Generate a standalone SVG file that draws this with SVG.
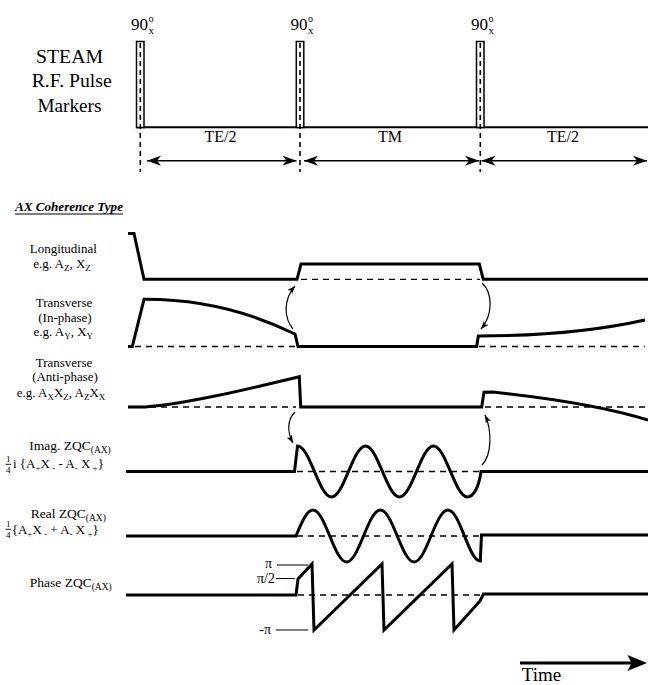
<svg xmlns="http://www.w3.org/2000/svg" width="648" height="685" viewBox="0 0 648 685">
<style>
.t{font-family:"Liberation Serif","Times New Roman",serif;font-size:13px;fill:#000}
.sb{font-size:9px}
.w{fill:none;stroke:#000;stroke-width:3;stroke-linejoin:miter;stroke-miterlimit:10}
.d{fill:none;stroke:#000;stroke-width:1.3;stroke-dasharray:6 5}
.vd{fill:none;stroke:#000;stroke-width:1.6;stroke-dasharray:5 4}
.ln{fill:none;stroke:#000;stroke-width:1}
.ar{fill:none;stroke:#000;stroke-width:1.5}
.ca{fill:none;stroke:#000;stroke-width:1.2}
.pulse{fill:#fff;stroke:#000;stroke-width:1.5}
</style>
<defs>
<marker id="ah" markerUnits="userSpaceOnUse" viewBox="0 0 14 10" refX="14" refY="5" markerWidth="14" markerHeight="10" orient="auto-start-reverse">
<path d="M0,0 L14,5 L0,10 L4,5 Z" fill="#000"/>
</marker>
<marker id="sa" markerUnits="userSpaceOnUse" viewBox="0 0 8 6" refX="8" refY="3" markerWidth="8" markerHeight="6" orient="auto">
<path d="M0,0 L8,3 L0,6 L2,3 Z" fill="#000"/>
</marker>
</defs>
<rect width="648" height="685" fill="#fff"/>

<g id="pulse-markers">
<text class="t" x="69.5" y="63" text-anchor="middle" style="font-size:18px" textLength="67" lengthAdjust="spacingAndGlyphs">STEAM</text>
<text class="t" x="71.7" y="87" text-anchor="middle" style="font-size:18px" textLength="80" lengthAdjust="spacingAndGlyphs">R.F. Pulse</text>
<text class="t" x="69.5" y="112" text-anchor="middle" style="font-size:18px" textLength="64" lengthAdjust="spacingAndGlyphs">Markers</text>
<line x1="136" y1="127.3" x2="648" y2="127.3" stroke="#000" stroke-width="2"/>
</g>

<g id="pulse1">
<rect class="pulse" x="136.5" y="41.5" width="7.5" height="86"/>
<line class="vd" x1="140.3" y1="43" x2="140.3" y2="172"/>
<text class="t" x="131" y="30" style="font-size:17px">90</text>
<text class="t" x="148.5" y="21.5" style="font-size:10px">o</text>
<text class="t" x="148.5" y="34" style="font-size:11px">x</text>
</g>
<g id="pulse2">
<rect class="pulse" x="296.3" y="41.5" width="7.5" height="86"/>
<line class="vd" x1="300" y1="43" x2="300" y2="172"/>
<text class="t" x="290.5" y="30" style="font-size:17px">90</text>
<text class="t" x="308" y="21.5" style="font-size:10px">o</text>
<text class="t" x="308" y="34" style="font-size:11px">x</text>
</g>
<g id="pulse3">
<rect class="pulse" x="476.5" y="41.5" width="7.5" height="86"/>
<line class="vd" x1="480.3" y1="43" x2="480.3" y2="172"/>
<text class="t" x="471" y="30" style="font-size:17px">90</text>
<text class="t" x="488.5" y="21.5" style="font-size:10px">o</text>
<text class="t" x="488.5" y="34" style="font-size:11px">x</text>
</g>

<g id="interval-labels">
<text class="t" x="220.5" y="142" text-anchor="middle" style="font-size:16px">TE/2</text>
<text class="t" x="390" y="142" text-anchor="middle" style="font-size:16px">TM</text>
<text class="t" x="563" y="142" text-anchor="middle" style="font-size:16px">TE/2</text>
</g>

<g id="heading">
<text class="t" x="15" y="210.5" style="font-weight:bold;font-style:italic" textLength="108" lengthAdjust="spacingAndGlyphs">AX Coherence Type</text>
<line x1="15" y1="214" x2="123" y2="214" stroke="#000" stroke-width="1.2"/>
</g>

<g id="longitudinal">
<text class="t" x="63.3" y="253" text-anchor="middle">Longitudinal</text>
<text class="t" x="62" y="268" text-anchor="middle">e.g. A<tspan class="sb" dy="3">Z</tspan><tspan dy="-3">, X</tspan><tspan class="sb" dy="3">Z</tspan></text>
<line class="d" x1="301" y1="279.3" x2="480" y2="279.3"/>
<path class="w" d="M128,233.5 H134 L144,279.3 H297 L301,264 H479.3 L483.3,279.3 H648"/>
</g>

<g id="transverse-inphase">
<text class="t" x="64" y="306.5" text-anchor="middle">Transverse</text>
<text class="t" x="65" y="321.5" text-anchor="middle">(In-phase)</text>
<text class="t" x="63.3" y="336" text-anchor="middle">e.g. A<tspan class="sb" dy="3">Y</tspan><tspan dy="-3">, X</tspan><tspan class="sb" dy="3">Y</tspan></text>
<line class="d" x1="135" y1="346.5" x2="296" y2="346.5"/>
<line class="d" x1="479" y1="346.5" x2="645" y2="346.5"/>
<path class="w" d="M128,346.5 H132.3 L144,299.3 C200,299 250,312 295,334 L298,346.5 H476.7 L478.3,336 C540,336 600,330 645,320"/>
</g>

<g id="transverse-antiphase">
<text class="t" x="64" y="366.5" text-anchor="middle">Transverse</text>
<text class="t" x="65" y="381" text-anchor="middle">(Anti-phase)</text>
<text class="t" x="61" y="396.5" text-anchor="middle">e.g. A<tspan class="sb" dy="3">X</tspan><tspan dy="-3">X</tspan><tspan class="sb" dy="3">Z</tspan><tspan dy="-3">, A</tspan><tspan class="sb" dy="3">Z</tspan><tspan dy="-3">X</tspan><tspan class="sb" dy="3">X</tspan></text>
<line class="d" x1="150" y1="407" x2="296" y2="407"/>
<line class="d" x1="485" y1="407" x2="645" y2="407"/>
<path class="w" d="M128,407 H145 C185,404 240,391 299.3,376.7 L300.7,407 H481.7 L484,392.3 L493,392 C540,397 600,405 648,420"/>
</g>

<g id="imag-zqc">
<text class="t" x="70" y="450" text-anchor="middle" style="font-size:13.5px">Imag. ZQC<tspan class="sb" style="font-size:9.5px" dy="3">(AX)</tspan></text>
<text class="t" x="8.3" y="462" text-anchor="middle" style="font-size:9px">1</text>
<line x1="5.5" y1="464.3" x2="11.2" y2="464.3" stroke="#000" stroke-width="0.9"/>
<text class="t" x="8.3" y="472.5" text-anchor="middle" style="font-size:9px">4</text>
<text class="t" x="13" y="467.5">i {A<tspan class="sb" dy="3">+</tspan><tspan dy="-3">X</tspan><tspan class="sb" dy="3"> -</tspan><tspan dy="-3"> -  A</tspan><tspan class="sb" dy="3">-</tspan><tspan dy="-3"> X</tspan><tspan class="sb" dy="3"> +</tspan><tspan dy="-3">}</tspan></text>
<line class="d" x1="297" y1="471.5" x2="481" y2="471.5"/>
<path class="w" d="M126,471.5 H294.5 L297.5,446 C309.9,446 319,497 331.5,497 C343.9,497 353,446 365.5,446 C377.9,446 387,497 399.5,497 C411.9,497 421,446 433.5,446 C445.9,446 455,497 467.5,497 C473.5,497 479,487 481,471.5 H648"/>
</g>

<g id="real-zqc">
<text class="t" x="68.3" y="517.5" text-anchor="middle" style="font-size:13.5px">Real ZQC<tspan class="sb" style="font-size:9.5px" dy="3">(AX)</tspan></text>
<text class="t" x="8.3" y="527" text-anchor="middle" style="font-size:9px">1</text>
<line x1="5.5" y1="529.3" x2="11.2" y2="529.3" stroke="#000" stroke-width="0.9"/>
<text class="t" x="8.3" y="537.5" text-anchor="middle" style="font-size:9px">4</text>
<text class="t" x="11.7" y="534">{A<tspan class="sb" dy="3">+</tspan><tspan dy="-3">X</tspan><tspan class="sb" dy="3"> -</tspan><tspan dy="-3"> + A</tspan><tspan class="sb" dy="3">-</tspan><tspan dy="-3"> X</tspan><tspan class="sb" dy="3"> +</tspan><tspan dy="-3">}</tspan></text>
<line class="d" x1="297" y1="536" x2="481" y2="536"/>
<path class="w" d="M126,536 H296 C301.5,522.7 306.8,510 312.9,510 C325.2,510 334.3,562 346.6,562 C358.9,562 368.1,510 380.4,510 C392.7,510 401.8,562 414.1,562 C426.4,562 435.6,510 447.9,510 C460.2,510 468.5,561 480.3,561 L481.5,535 H648"/>
</g>

<g id="phase-zqc">
<text class="t" x="70.8" y="587" text-anchor="middle" style="font-size:13.5px">Phase ZQC<tspan class="sb" style="font-size:9.5px" dy="3">(AX)</tspan></text>
<text class="t" x="272" y="568" text-anchor="end" style="font-size:14px">π</text>
<line class="ln" x1="277" y1="565" x2="308" y2="565"/>
<text class="t" x="275" y="582.5" text-anchor="end" style="font-size:14px">π/2</text>
<line class="ln" x1="276" y1="578.5" x2="295" y2="578.5"/>
<text class="t" x="271" y="634" text-anchor="end" style="font-size:14px">-π</text>
<line class="ln" x1="276" y1="630" x2="308" y2="630"/>
<line class="d" x1="298" y1="595" x2="482" y2="595"/>
<path class="w" d="M126,595 H296 L298,579 L312,564 L314,630 L382,564 L384,630 L452,564 L454,630 L480,601 L483.5,594 H648"/>
</g>

<g id="time-axis">
<line x1="520" y1="663" x2="632" y2="663" stroke="#000" stroke-width="3"/>
<path d="M647,663 L627.5,655 L631.5,663 L627.5,671 Z" fill="#000"/>
<text class="t" x="521.7" y="680.5" style="font-size:19px">Time</text>
</g>

<g id="connectors">
<line class="ar" x1="147" y1="160.7" x2="296.5" y2="160.7" marker-start="url(#ah)" marker-end="url(#ah)"/>
<line class="ar" x1="304" y1="160.7" x2="479" y2="160.7" marker-start="url(#ah)" marker-end="url(#ah)"/>
<line class="ar" x1="481.5" y1="160.7" x2="647" y2="160.7" marker-start="url(#ah)" marker-end="url(#ah)"/>
<path class="ca" d="M293,329 C284,318 283,300 295,286" marker-end="url(#sa)"/>
<path class="ca" d="M482,283 C493,293 493,315 481,329" marker-end="url(#sa)"/>
<path class="ca" d="M295,412 C287,420 287,432 293,443" marker-end="url(#sa)"/>
<path class="ca" d="M482,465 C492,455 492,430 485,415" marker-end="url(#sa)"/>
</g>
</svg>
